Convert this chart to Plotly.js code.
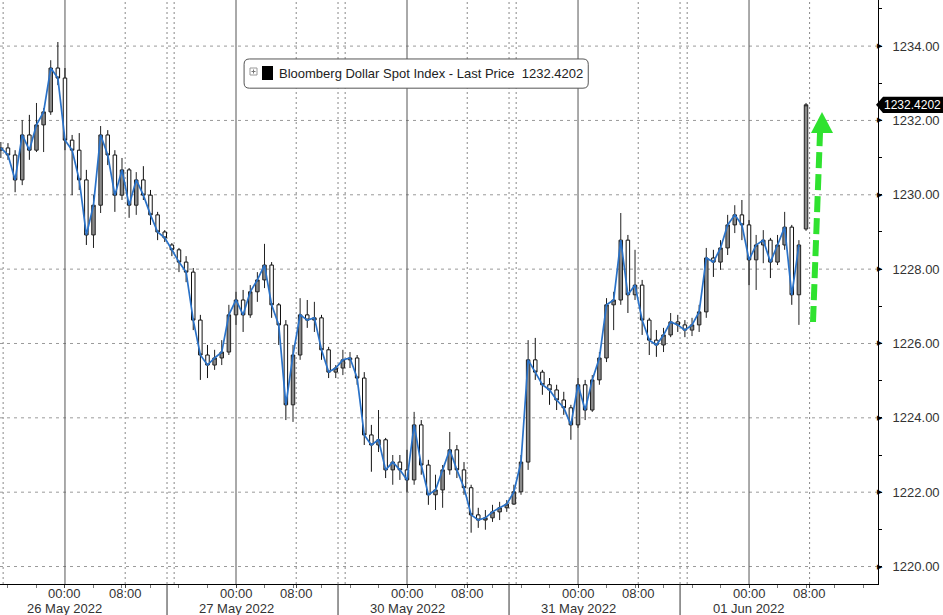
<!DOCTYPE html>
<html>
<head>
<meta charset="utf-8">
<script src="https://cdn.plot.ly/plotly-3.0.1.min.js"></script>
<style>html,body{margin:0;padding:0;background:#fff;}#chart{width:943px;height:615px;}</style>
</head>
<body>
<div id="chart"></div>
<script>
// Hours relative to 26 May 2022 00:00 (weekend collapsed), one candle per hour
const hours = [-9,-8,-7,-6,-5,-4,-3,-2,-1,0,1,2,3,4,5,6,7,8,9,10,11,12,13,14,15,16,17,18,19,20,
  21,22,23,24,25,26,27,28,29,30,31,32,33,34,35,36,37,38,39,40,41,42,43,44,45,46,47,48,49,50,
  51,52,53,54,55,56,57,58,59,60,61,62,63,64,65,66,67,68,69,70,71,72,73,74,75,76,77,78,79,80,
  81,82,83,84,85,86,87,88,89,90,91,92,93,94,95,96,97,98,99,100,101,102,103,104];

const openP = [1231.20,1231.26,1231.07,1230.40,1231.61,1231.20,1231.88,1232.23,1233.41,1233.14,
  1231.47,1231.20,1230.40,1228.92,1229.72,1231.61,1231.07,1229.99,1230.67,1229.72,
  1230.40,1229.99,1229.46,1229.00,1228.65,1228.52,1228.19,1227.92,1226.63,1225.69,
  1225.42,1225.61,1225.77,1226.77,1227.17,1226.77,1227.39,1227.71,1228.11,1227.04,
  1226.50,1224.35,1225.69,1226.77,1226.63,1226.69,1225.83,1225.23,1225.34,1225.56,
  1225.61,1225.07,1223.54,1223.27,1223.41,1222.60,1222.81,1222.60,1222.33,1223.81,
  1222.73,1221.93,1222.06,1222.60,1223.14,1222.60,1222.12,1221.39,1221.25,1221.31,
  1221.47,1221.58,1221.68,1222.01,1222.81,1225.56,1225.23,1224.89,1224.75,1224.48,
  1224.27,1223.81,1224.89,1224.21,1225.02,1225.61,1227.04,1227.17,1228.78,1227.31,
  1227.57,1226.63,1226.09,1225.96,1226.23,1226.58,1226.50,1226.36,1226.50,1226.85,
  1228.30,1228.19,1228.57,1229.19,1229.46,1229.19,1228.25,1228.65,1228.78,1228.19,
  1228.65,1229.13,1227.31,1229.08];

const highP = [1231.42,1231.39,1231.20,1232.01,1232.15,1232.47,1232.33,1233.62,1234.11,1233.41,
  1231.61,1231.66,1230.67,1229.99,1231.85,1231.74,1231.20,1230.99,1230.72,1230.61,
  1230.77,1230.13,1229.54,1229.05,1228.70,1228.57,1228.35,1228.03,1226.77,1225.96,
  1225.83,1226.09,1227.04,1227.39,1227.44,1227.57,1227.92,1228.68,1228.19,1227.09,
  1226.63,1225.96,1227.22,1227.17,1227.12,1226.77,1225.91,1225.42,1225.83,1225.77,
  1225.69,1225.23,1223.81,1224.21,1223.46,1223.00,1223.00,1223.14,1224.16,1223.94,
  1222.87,1222.47,1222.73,1223.62,1223.27,1222.81,1222.20,1221.58,1221.52,1221.66,
  1221.74,1221.79,1222.20,1223.00,1226.09,1226.15,1225.29,1225.07,1224.89,1224.70,
  1224.35,1225.07,1225.02,1225.15,1225.77,1227.22,1227.39,1229.51,1228.92,1228.52,
  1227.71,1226.69,1226.36,1226.42,1226.82,1226.77,1226.63,1226.69,1227.04,1228.57,
  1228.52,1228.78,1229.46,1229.72,1229.86,1229.32,1228.92,1229.05,1228.84,1228.92,
  1229.54,1229.19,1228.78,1232.47];

const lowP = [1230.99,1230.94,1230.07,1230.26,1230.94,1231.15,1231.15,1232.15,1232.95,1231.20,
  1229.99,1230.13,1228.65,1228.57,1229.51,1230.80,1229.54,1229.86,1229.38,1229.46,
  1229.86,1229.19,1228.78,1228.73,1228.35,1227.92,1227.65,1226.36,1225.02,1225.07,
  1225.29,1225.42,1225.69,1226.50,1226.31,1226.69,1227.12,1227.49,1226.69,1225.96,
  1223.94,1223.89,1225.56,1226.42,1226.31,1225.56,1225.07,1225.07,1225.15,1225.34,
  1224.89,1223.27,1222.55,1223.08,1222.38,1222.20,1222.33,1222.01,1222.20,1222.47,
  1221.66,1221.52,1221.58,1222.47,1222.38,1221.93,1220.91,1221.04,1220.99,1221.20,
  1221.25,1221.47,1221.66,1221.93,1222.60,1225.02,1224.62,1224.35,1224.21,1224.08,
  1223.41,1223.73,1223.94,1224.16,1224.89,1225.50,1226.36,1227.04,1226.82,1227.17,
  1226.23,1225.69,1225.64,1225.77,1226.17,1226.31,1226.17,1226.20,1226.31,1226.69,
  1227.79,1227.98,1228.38,1228.97,1228.78,1227.57,1227.44,1228.16,1227.76,1228.11,
  1228.52,1227.04,1226.50,1229.03];

const closeP = [1231.26,1231.07,1230.40,1231.61,1231.20,1231.88,1232.23,1233.41,1233.14,1231.47,
  1231.20,1230.40,1228.92,1229.72,1231.61,1231.07,1229.99,1230.67,1229.72,1230.40,
  1229.99,1229.46,1229.00,1228.84,1228.52,1228.19,1227.92,1226.63,1225.69,1225.42,
  1225.61,1225.77,1226.77,1227.17,1226.77,1227.39,1227.71,1228.11,1227.04,1226.50,
  1224.35,1225.69,1226.77,1226.63,1226.69,1225.83,1225.23,1225.34,1225.56,1225.61,
  1225.07,1223.54,1223.27,1223.41,1222.60,1222.81,1222.60,1222.33,1223.81,1222.73,
  1221.93,1222.06,1222.60,1223.14,1222.60,1222.12,1221.39,1221.25,1221.31,1221.47,
  1221.58,1221.68,1222.01,1222.81,1225.56,1225.23,1224.89,1224.75,1224.48,1224.27,
  1223.81,1224.89,1224.21,1225.02,1225.61,1227.04,1227.17,1228.78,1227.31,1227.57,
  1226.63,1226.09,1225.96,1226.23,1226.58,1226.50,1226.36,1226.50,1226.85,1228.30,
  1228.19,1228.57,1229.19,1229.46,1229.19,1228.25,1228.65,1228.78,1228.19,1228.65,
  1229.13,1227.31,1228.65,1232.4202];

// Axis labels
const xTickVals = [0, 8.45, 24, 32.45, 48, 56.45, 72, 80.45, 96, 104.5];
const xTickText = ['00:00','08:00','00:00','08:00','00:00','08:00','00:00','08:00','00:00','08:00'];
const dayHours = [0, 24, 48, 72, 96];
const dayLabels = ['26 May 2022','27 May 2022','30 May 2022','31 May 2022','01 Jun 2022'];
const eightHours = [8.45, 32.45, 56.45, 80.45, 104.5];
const dayBreaks = [14.32, 38.32, 62.32, 86.32];
const yTicks = [1220,1222,1224,1226,1228,1230,1232,1234];
const seriesName = 'Bloomberg Dollar Spot Index - Last Price';
const lastPrice = '1232.4202';

const FONT = 'Liberation Sans, Arial, sans-serif';

const traces = [
  {
    type: 'candlestick', x: hours, open: openP, high: highP, low: lowP, close: closeP,
    increasing: {line: {color: '#222', width: 1}, fillcolor: '#8a8a8a'},
    decreasing: {line: {color: '#111', width: 1}, fillcolor: '#ffffff'},
    whiskerwidth: 0, hoverinfo: 'skip', showlegend: false
  },
  {
    type: 'scatter', mode: 'lines', x: hours.slice(0, -1), y: closeP.slice(0, -1),
    line: {color: '#2a72c8', width: 1.7}, hoverinfo: 'skip', showlegend: false
  }
];

const shapes = [];
// horizontal dashed grid
yTicks.forEach(v => shapes.push({type:'line', xref:'paper', yref:'y', x0:0, x1:1, y0:v, y1:v,
  line:{color:'#9a9a9a', width:1, dash:'3px,4px'}, layer:'below'}));
// midnight solid lines
dayHours.forEach(h => shapes.push({type:'line', xref:'x', yref:'paper', x0:h, x1:h, y0:0, y1:1,
  line:{color:'#555', width:1}, layer:'below'}));
// 08:00 dotted
eightHours.forEach(h => shapes.push({type:'line', xref:'x', yref:'paper', x0:h, x1:h, y0:0, y1:1,
  line:{color:'#888', width:1, dash:'2px,3px'}, layer:'below'}));
// day separators: dotted pair in plot, solid in the label area
dayBreaks.forEach(h => {
  shapes.push({type:'line', xref:'x', yref:'paper', x0:h, x1:h, y0:0, y1:1,
    line:{color:'#888', width:1, dash:'2px,3px'}, layer:'below'});
  shapes.push({type:'line', xref:'x', yref:'paper', x0:h+1, x1:h+1, y0:0, y1:1,
    line:{color:'#888', width:1, dash:'2px,3px'}, layer:'below'});
  shapes.push({type:'line', xref:'x', yref:'paper', x0:h, x1:h, y0:-0.06, y1:0,
    line:{color:'#333', width:1}, layer:'above'});
});
shapes.push({type:'line', xref:'x', yref:'paper', x0:-8.68, x1:-8.68, y0:0, y1:1,
  line:{color:'#888', width:1, dash:'2px,3px'}, layer:'below'});

// legend box (rounded)
(function(){
  const x0=0.278, x1=0.670, y0=0.849, y1=0.899, rx=0.006, ry=0.009;
  const p = `M ${x0+rx},${y1} L ${x1-rx},${y1} Q ${x1},${y1} ${x1},${y1-ry} L ${x1},${y0+ry} Q ${x1},${y0} ${x1-rx},${y0} L ${x0+rx},${y0} Q ${x0},${y0} ${x0},${y0+ry} L ${x0},${y1-ry} Q ${x0},${y1} ${x0+rx},${y1} Z`;
  shapes.push({type:'path', xref:'paper', yref:'paper', path:p, fillcolor:'#fff',
    line:{color:'#555', width:1}, layer:'above'});
})();
// legend icons
shapes.push({type:'rect', xref:'paper', yref:'paper', x0:250/878, x1:257/878, y0:1-75/584, y1:1-68/584,
  fillcolor:'#fff', line:{color:'#999', width:1}, layer:'above'});
shapes.push({type:'line', xref:'paper', yref:'paper', x0:251.5/878, x1:255.5/878, y0:1-71.5/584, y1:1-71.5/584,
  line:{color:'#777', width:1}, layer:'above'});
shapes.push({type:'line', xref:'paper', yref:'paper', x0:253.5/878, x1:253.5/878, y0:1-73.5/584, y1:1-69.5/584,
  line:{color:'#777', width:1}, layer:'above'});
shapes.push({type:'rect', xref:'paper', yref:'paper', x0:262/878, x1:273/878, y0:1-80/584, y1:1-66/584,
  fillcolor:'#000', line:{color:'#000', width:0}, layer:'above'});

// last price tag
(function(){
  const yc = 1232.4202, dy = 0.22;
  const xa = 876/878, xb = 883/878, xe = 943/878;
  shapes.push({type:'path', xref:'paper', yref:'y',
    path:`M ${xa},${yc} L ${xb},${yc+dy} L ${xe},${yc+dy} L ${xe},${yc-dy} L ${xb},${yc-dy} Z`,
    fillcolor:'#000', line:{color:'#000', width:0}, layer:'above'});
})();

// green dashed arrow
shapes.push({type:'line', xref:'paper', yref:'paper', x0:813/878, y0:1-322/584, x1:820/878, y1:1-133/584,
  line:{color:'#2fe22f', width:6, dash:'16px,6px'}, layer:'above'});
shapes.push({type:'path', xref:'paper', yref:'paper',
  path:`M ${811/878},${1-133/584} L ${833/878},${1-133/584} L ${822/878},${1-112/584} Z`,
  fillcolor:'#2fe22f', line:{color:'#2fe22f', width:0}, layer:'above'});

const annotations = [];
xTickVals.forEach((h, i) => annotations.push({x:h, xref:'x', y:-9/584, yref:'paper', text:xTickText[i],
  showarrow:false, xanchor:'center', yanchor:'middle', font:{family:FONT, size:13, color:'#333'}}));
dayHours.forEach((h, i) => annotations.push({x:h, xref:'x', y:-24/584, yref:'paper', text:dayLabels[i],
  showarrow:false, xanchor:'center', yanchor:'middle', font:{family:FONT, size:13, color:'#333'}}));
yTicks.forEach(v => annotations.push({x:1, xref:'paper', y:v, yref:'y', text:'\u25B6', showarrow:false,
  xanchor:'left', yanchor:'middle', xshift:-3, font:{family:'DejaVu Sans', size:7, color:'#000'}}));
annotations.push({x:277/878, xref:'paper', y:1-73.5/584, yref:'paper', text:seriesName + '  ' + lastPrice,
  showarrow:false, xanchor:'left', yanchor:'middle', font:{family:FONT, size:13, color:'#222'}});
annotations.push({x:882/878, xref:'paper', y:1232.4202, yref:'y', text:lastPrice, showarrow:false,
  xanchor:'left', yanchor:'middle', font:{family:FONT, size:12, color:'#fff'}});

const layout = {
  width: 943, height: 615,
  margin: {l:0, r:65, t:0, b:31, pad:0},
  paper_bgcolor: '#fff', plot_bgcolor: '#fff',
  showlegend: false,
  xaxis: {
    range: [-9.12, 114.1], showgrid: false, zeroline: false,
    showline: true, linecolor: '#000', linewidth: 1,
    tickmode: 'array', tickvals: xTickVals, showticklabels: false,
    ticks: 'outside', ticklen: 3, tickcolor: '#444',
    minor: {dtick: 4, tick0: 0, ticks: 'outside', ticklen: 3, tickcolor: '#777', showgrid: false},
    rangeslider: {visible: false}, fixedrange: true
  },
  yaxis: {
    side: 'right', range: [1219.53, 1235.24], showgrid: false, zeroline: false,
    showline: true, linecolor: '#000', linewidth: 1,
    tickmode: 'array', tickvals: yTicks, ticktext: yTicks.map(v => v.toFixed(2)),
    ticks: 'outside', ticklen: 3, tickcolor: '#000', ticklabelstandoff: 8,
    tickfont: {family: FONT, size: 13, color: '#333'},
    minor: {dtick: 1, ticks: 'outside', ticklen: 3, tickcolor: '#000', showgrid: false},
    fixedrange: true
  },
  shapes: shapes,
  annotations: annotations
};

Plotly.newPlot('chart', traces, layout, {staticPlot: true, displayModeBar: false});
</script>
</body>
</html>
